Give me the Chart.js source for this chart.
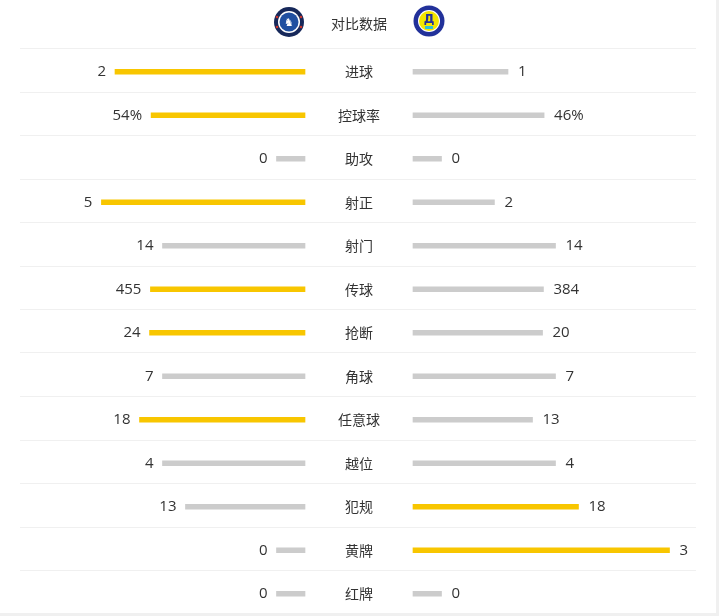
<!DOCTYPE html>
<html>
<head>
<meta charset="utf-8">
<script src="https://cdn.jsdelivr.net/npm/chart.js@4.4.1/dist/chart.umd.min.js"></script>
<style>
  html, body { margin: 0; padding: 0; background: #fff; }
  #wrap { position: relative; width: 719px; height: 616px; }
  #edgeR { position: absolute; right: 0; top: 0; width: 3px; height: 616px; background: #f0f0f0; }
  #edgeB { position: absolute; left: 0; bottom: 0; width: 719px; height: 3px; background: #f0f0f0; }
</style>
</head>
<body>
<div id="wrap">
  <canvas id="statChart" width="719" height="616"></canvas>
  <div id="edgeR"></div>
  <div id="edgeB"></div>
</div>
<script>
var categories = ["进球", "控球率", "助攻", "射正", "射门", "传球", "抢断", "角球", "任意球", "越位", "犯规", "黄牌", "红牌"];
var homeValues = [2, 54, 0, 5, 14, 455, 24, 7, 18, 4, 13, 0, 0];
var awayValues = [1, 46, 0, 2, 14, 384, 20, 7, 13, 4, 18, 3, 0];
var suffixes = ["", "%", "", "", "", "", "", "", "", "", "", "", ""];

var YELLOW = "#f8c600";
var GRAY = "#cccccc";
var GAP = 54 / 285; // half of the centre gap, in bar-length units

// share of each side in a row, with a small stub for zero values
function shares(a, b) {
  if (a + b === 0) return [0.1, 0.1];
  var pa = a / (a + b), pb = b / (a + b);
  if (pa < 0.1) { pa = 0.1; pb = 0.9; }
  if (pb < 0.1) { pb = 0.1; pa = 0.9; }
  return [pa, pb];
}

var leftBars = [], rightBars = [], leftColors = [], rightColors = [];
categories.forEach(function (c, i) {
  var s = shares(homeValues[i], awayValues[i]);
  leftBars.push([-(GAP + s[0]), -GAP]);
  rightBars.push([GAP, GAP + s[1]]);
  leftColors.push(homeValues[i] > awayValues[i] ? YELLOW : GRAY);
  rightColors.push(awayValues[i] > homeValues[i] ? YELLOW : GRAY);
});

var decor = {
  id: "decor",
  beforeDatasetsDraw: function (chart) {
    var ctx = chart.ctx, y = chart.scales.y, area = chart.chartArea;
    var half = (y.getPixelForValue(1) - y.getPixelForValue(0)) / 2;
    ctx.save();
    ctx.strokeStyle = "#f0f0f0";
    ctx.lineWidth = 1;
    for (var i = 0; i < categories.length; i++) {
      // dividers sit a little above the band edge
      var py = Math.round(y.getPixelForValue(i) - half - 2) + 0.5;
      ctx.beginPath();
      ctx.moveTo(area.left, py);
      ctx.lineTo(area.right - 2, py);
      ctx.stroke();
    }
    ctx.restore();
  },
  afterDraw: function (chart) {
    var ctx = chart.ctx, x = chart.scales.x, y = chart.scales.y;
    ctx.save();
    ctx.fillStyle = "#333";
    ctx.textBaseline = "middle";
    categories.forEach(function (c, i) {
      var py = y.getPixelForValue(i);
      ctx.font = "14px 'Noto Sans CJK SC', sans-serif";
      ctx.textAlign = "center";
      ctx.fillText(c, x.getPixelForValue(0), py);
      ctx.font = "15px 'Open Sans', 'Noto Sans', sans-serif";
      ctx.textAlign = "right";
      ctx.fillText(homeValues[i] + suffixes[i], x.getPixelForValue(leftBars[i][0]) - 9, py);
      ctx.textAlign = "left";
      ctx.fillText(awayValues[i] + suffixes[i], x.getPixelForValue(rightBars[i][1]) + 10, py);
    });

    // header
    var cx = x.getPixelForValue(0);
    ctx.font = "14px 'Noto Sans CJK SC', sans-serif";
    ctx.textAlign = "center";
    ctx.fillText("对比数据", cx, 24);

    // home crest
    var hx = cx - 70, hy = 22;
    ctx.beginPath(); ctx.arc(hx, hy, 15, 0, Math.PI * 2); ctx.fillStyle = "#16285a"; ctx.fill();
    ctx.beginPath(); ctx.arc(hx, hy, 11, 0, Math.PI * 2); ctx.fillStyle = "#ffffff"; ctx.fill();
    ctx.beginPath(); ctx.arc(hx, hy, 9.5, 0, Math.PI * 2); ctx.fillStyle = "#1f4fa0"; ctx.fill();
    ctx.fillStyle = "#c7352f";
    [[-12, -5], [12, -5], [-12, 5], [12, 5]].forEach(function (d) {
      ctx.beginPath(); ctx.arc(hx + d[0], hy + d[1], 1.3, 0, Math.PI * 2); ctx.fill();
    });
    ctx.fillStyle = "#ffffff";
    ctx.font = "bold 11px 'DejaVu Sans', sans-serif";
    ctx.fillText("♞", hx, hy + 1);

    // away crest
    var ax = cx + 70, ay = 21;
    ctx.beginPath(); ctx.arc(ax, ay, 15.5, 0, Math.PI * 2); ctx.fillStyle = "#22319a"; ctx.fill();
    ctx.beginPath(); ctx.arc(ax, ay, 11, 0, Math.PI * 2); ctx.fillStyle = "#ffffff"; ctx.fill();
    ctx.beginPath(); ctx.arc(ax, ay, 10, 0, Math.PI * 2); ctx.fillStyle = "#f3e600"; ctx.fill();
    ctx.fillStyle = "#2fc0d8";
    ctx.fillRect(ax - 4, ay + 5, 8, 3);
    ctx.fillStyle = "#22319a";
    ctx.font = "bold 12px 'DejaVu Sans', sans-serif";
    ctx.fillText("Д", ax, ay - 1);
    ctx.restore();
  }
};

var ctx = document.getElementById("statChart").getContext("2d");
var statChart = new Chart(ctx, {
  type: "bar",
  data: {
    labels: categories,
    datasets: [
      { label: "主队", data: leftBars, backgroundColor: leftColors, barThickness: 5, grouped: false },
      { label: "客队", data: rightBars, backgroundColor: rightColors, barThickness: 5, grouped: false },
    ],
  },
  options: {
    indexAxis: "y",
    responsive: false,
    animation: false,
    layout: { padding: { left: 20, right: 21, top: 50, bottom: 0.5 } },
    plugins: { legend: { display: false }, tooltip: { enabled: false } },
    scales: {
      x: { display: false, min: -(1 + GAP), max: 1 + GAP },
      y: { display: false },
    },
  },
  plugins: [decor],
});
</script>
</body>
</html>
